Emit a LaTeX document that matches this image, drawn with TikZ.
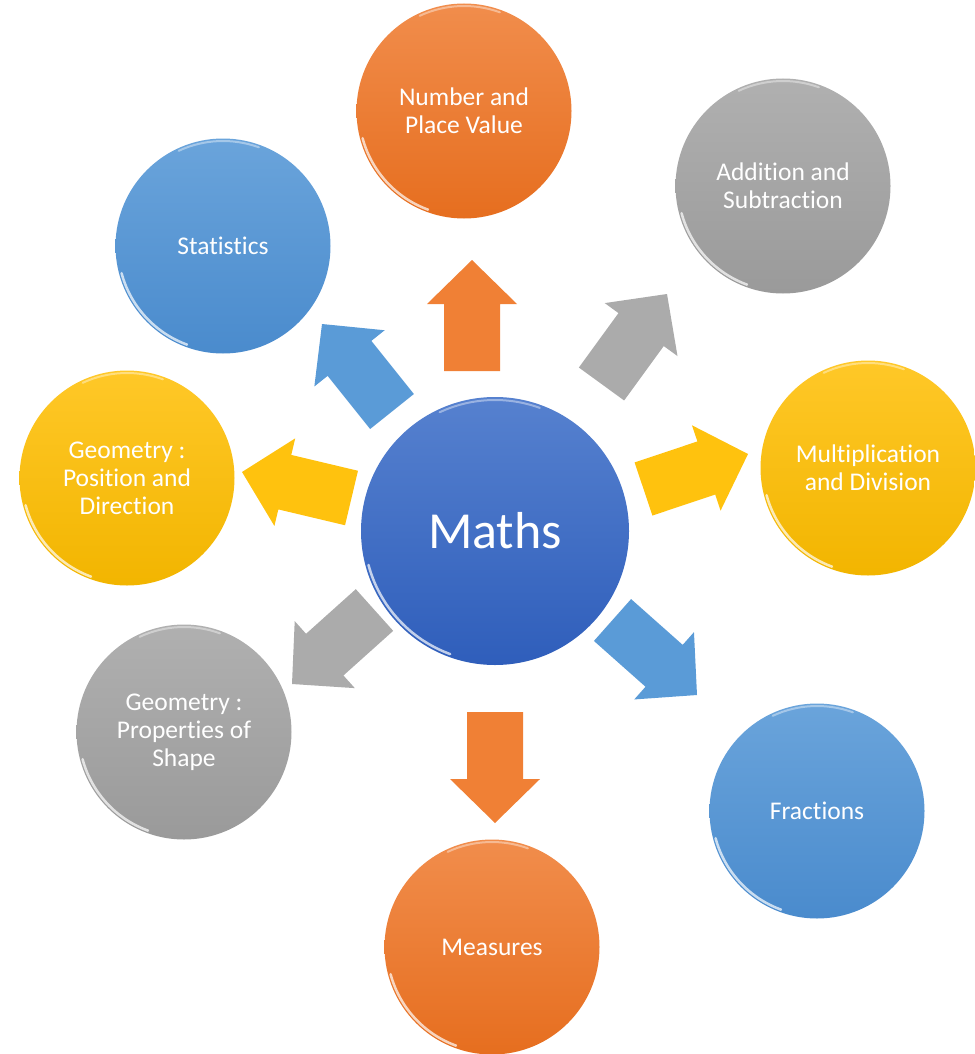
\documentclass[tikz,border=0pt]{standalone}
\usepackage{fontspec}
\setmainfont{Carlito}[Ligatures=NoCommon]
\usepackage{tikz}
\usetikzlibrary{calc}

\definecolor{orTop}{HTML}{F18D4C}
\definecolor{orBot}{HTML}{E66E1F}
\definecolor{grTop}{HTML}{B0B0B0}
\definecolor{grBot}{HTML}{9A9A9A}
\definecolor{blTop}{HTML}{6AA4DB}
\definecolor{blBot}{HTML}{4A8BCD}
\definecolor{yeTop}{HTML}{FFC828}
\definecolor{yeBot}{HTML}{F2B500}
\definecolor{mTop}{HTML}{5681CF}
\definecolor{mBot}{HTML}{2F5EBB}
\definecolor{orArr}{HTML}{F08035}
\definecolor{grArr}{HTML}{ABABAB}
\definecolor{blArr}{HTML}{5A9BD7}
\definecolor{yeArr}{HTML}{FFC20E}

\tikzstyle{ball}=[circle, minimum size=215pt, inner sep=0pt, text=white, align=center, font=\fontsize{25.5}{28}\selectfont]
\tikzstyle{orball}=[ball, top color=orTop, bottom color=orBot]
\tikzstyle{grball}=[ball, top color=grTop, bottom color=grBot]
\tikzstyle{blball}=[ball, top color=blTop, bottom color=blBot]
\tikzstyle{yeball}=[ball, top color=yeTop, bottom color=yeBot]
\tikzstyle{rim}=[white, line width=2.5pt, opacity=.7, line cap=round]

% fat arrow: style, tail, tip
\newcommand{\bigarrow}[3]{%
  \coordinate (hb) at ($(#3)!44pt!(#2)$);
  \fill[#1] ($(#2)!28pt!90:(#3)$) -- ($(hb)!28pt!90:(#3)$) -- ($(hb)!45pt!90:(#3)$) -- (#3)
    -- ($(hb)!45pt!-90:(#3)$) -- ($(hb)!28pt!-90:(#3)$) -- ($(#2)!28pt!-90:(#3)$) -- cycle;}

\begin{document}
\begin{tikzpicture}[x=1pt,y=-1pt]
	\useasboundingbox (0,0) rectangle (974,1054);

	\node[ball, minimum size=268pt, top color=mTop, bottom color=mBot, font=\fontsize{52}{56}\selectfont] (M) at (495,531) {Maths};
	\node[orball] (N) at (464,111) {Number and\\Place Value};
	\node[grball] (A) at (783,186) {Addition and\\Subtraction};
	\node[blball] (T) at (223,246) {Statistics};
	\node[yeball] (P) at (127,478) {Geometry :\\Position and\\Direction};
	\node[yeball] (X) at (868,468) {Multiplication\\and Division};
	\node[grball] (S) at (184,732) {Geometry :\\Properties of\\Shape};
	\node[orball] (E) at (492,947) {Measures};
	\node[blball] (F) at (817,811) {Fractions};

	\foreach \n in {N,A,T,P,X,S,E,F}{
		\draw[rim] ($(\n.center)+(195:105pt)$) arc (195:250:105pt);
		\draw[rim, opacity=.4, line width=2pt] ($(\n.center)+(70:105pt)$) arc (70:115:105pt);
	}
	\draw[rim] ($(M.center)+(195:131pt)$) arc (195:250:131pt);
	\draw[rim, opacity=.4, line width=2pt] ($(M.center)+(70:131pt)$) arc (70:115:131pt);

	\coordinate (n0) at (472,371);   \coordinate (n1) at (472,260);
	\coordinate (a0) at (601.5,384); \coordinate (a1) at (667,294);
	\coordinate (t0) at (392,411.5); \coordinate (t1) at (322,324);
	\coordinate (p0) at (351.5,498); \coordinate (p1) at (242,472);
	\coordinate (x0) at (643.5,489); \coordinate (x1) at (748,454);
	\coordinate (f0) at (612.5,620); \coordinate (f1) at (697,695);
	\coordinate (s0) at (374.5,610); \coordinate (s1) at (292,684);
	\coordinate (e0) at (495,712);   \coordinate (e1) at (495,823);

	\bigarrow{orArr}{n0}{n1}
	\bigarrow{grArr}{a0}{a1}
	\bigarrow{blArr}{t0}{t1}
	\bigarrow{yeArr}{p0}{p1}
	\bigarrow{yeArr}{x0}{x1}
	\bigarrow{blArr}{f0}{f1}
	\bigarrow{grArr}{s0}{s1}
	\bigarrow{orArr}{e0}{e1}
\end{tikzpicture}
\end{document}
